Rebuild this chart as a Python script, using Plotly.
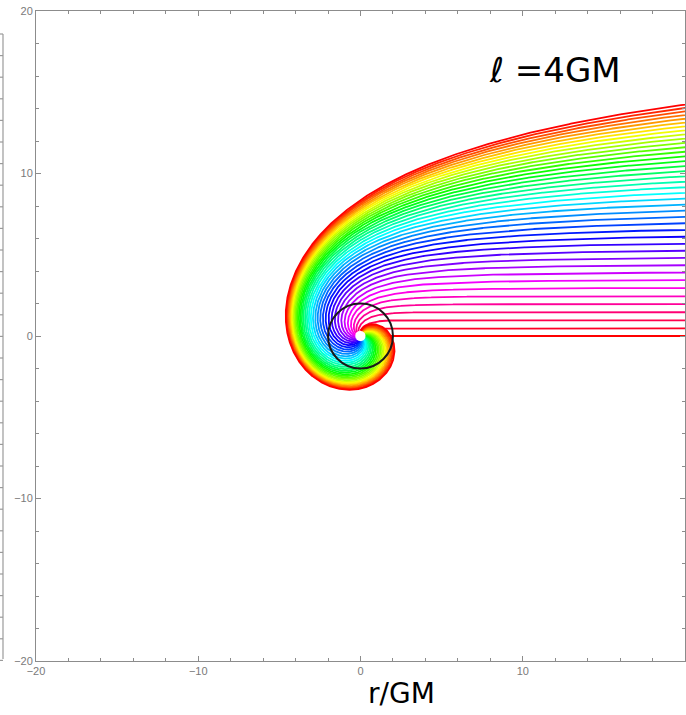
import numpy as np
import colorsys
import plotly.graph_objects as go

# ---------------- data ----------------
# Schwarzschild units GM = 1 ; massive test particles with angular momentum per unit mass l = 4GM
ANG_MOM = 4.0
# asymptotic impact parameters of the incoming particles (bottom ray -> top ray)
impact_params = [0.0, 0.5, 1.0, 1.5, 2.0, 2.5, 3.0, 3.5, 4.0, 4.5,
                 5.0, 5.5, 6.0, 6.5, 7.0, 7.5, 8.0, 8.5, 9.0, 9.5,
                 10.0, 10.5, 11.0, 11.5, 12.0, 12.5, 13.0, 13.5, 14.0, 14.5,
                 15.0, 15.5, 16.0, 16.5, 17.0, 17.5, 18.0, 18.5, 19.0, 19.5, 20.0]
horizon_radius = 2.0
r_min = 0.33
r_max = 80.0
axis_ticks = [-20, -10, 0, 10, 20]
axis_range = [-20, 20]

# ---------------- geometry ----------------
u = np.concatenate([np.linspace(0.0, 0.02, 300, endpoint=False),
                    np.linspace(0.02, 0.6, 5000, endpoint=False),
                    np.geomspace(0.6, 1.0 / r_min, 1200)])

def trajectory(b):
    if b == 0:
        r = 1.0 / u[u >= 1.0 / r_max]
        return r, np.zeros_like(r)
    f = 1.0 / b**2 + 2.0 * u / ANG_MOM**2 - u**2 + 2.0 * u**3
    g = 1.0 / np.sqrt(f)
    phi = np.concatenate([[0.0], np.cumsum(0.5 * (g[1:] + g[:-1]) * np.diff(u))])
    m = u >= 1.0 / r_max
    uu, pp = u[m], phi[m]
    return np.cos(pp) / uu, np.sin(pp) / uu

n = len(impact_params) - 1
fig = go.Figure()
for i, b in enumerate(impact_params):
    x, y = trajectory(b)
    h = 1.0 - i / n
    r_, g_, b_ = colorsys.hsv_to_rgb(h % 1.0, 1.0, 1.0)
    col = f"rgb({int(round(r_*255))},{int(round(g_*255))},{int(round(b_*255))})"
    fig.add_trace(go.Scatter(x=x[::2], y=y[::2], mode="lines",
                             line=dict(color=col, width=1.8),
                             hoverinfo="skip", showlegend=False))

# event horizon
fig.add_shape(type="circle", xref="x", yref="y",
              x0=-horizon_radius, y0=-horizon_radius, x1=horizon_radius, y1=horizon_radius,
              line=dict(color="#1a1a1a", width=2))

W, H = 686, 715
ML, MR, MT, MB = 36, 1, 11, 54
PW, PH = W - ML - MR, H - MT - MB

def px2paper(px, py):
    return (px - ML) / PW, (H - MB - py) / PH

# partial neighbouring frame at the left edge
xa, ya = px2paper(3, 34)
xa2, ya2 = px2paper(3, 659)
fig.add_shape(type="line", xref="paper", yref="paper", x0=xa, x1=xa, y0=ya, y1=ya2,
              line=dict(color="#9a9a9a", width=1.2))
x0p, _ = px2paper(-1, 0)
for py in np.arange(34, 662, 21.6):
    _, yy = px2paper(0, py)
    fig.add_shape(type="line", xref="paper", yref="paper", x0=x0p, x1=xa, y0=yy, y1=yy,
                  line=dict(color="#9a9a9a", width=1.2))

axis_common = dict(range=axis_range, tickvals=axis_ticks, ticks="inside", ticklen=5,
                   tickwidth=1, tickcolor="#8c8c8c", showline=True, linecolor="#8c8c8c",
                   linewidth=1, mirror="allticks", showgrid=False, zeroline=False,
                   automargin=False,
                   tickfont=dict(family="Liberation Sans, Arial", size=11, color="#7a7a7a"),
                   minor=dict(dtick=2, ticks="inside", ticklen=3, tickcolor="#8c8c8c", showgrid=False))

fig.update_layout(
    width=W, height=H,
    margin=dict(l=ML, r=MR, t=MT, b=MB, autoexpand=False),
    paper_bgcolor="white", plot_bgcolor="white",
    xaxis=dict(**axis_common),
    yaxis=dict(**axis_common),
)

ax, ay = px2paper(555, 70)
fig.add_annotation(text="ℓ =4GM", xref="paper", yref="paper", x=ax, y=ay,
                   xanchor="center", yanchor="middle", showarrow=False,
                   font=dict(family="DejaVu Sans", size=34, color="black"))
bx, by = px2paper(402, 694)
fig.add_annotation(text="r/GM", xref="paper", yref="paper", x=bx, y=by,
                   xanchor="center", yanchor="middle", showarrow=False,
                   font=dict(family="DejaVu Sans", size=28, color="black"))

fig.write_html("out.html", config={"displayModeBar": False},
               post_script="document.body.style.margin='0';document.body.style.padding='0';"
                           "document.body.style.overflow='hidden';")
